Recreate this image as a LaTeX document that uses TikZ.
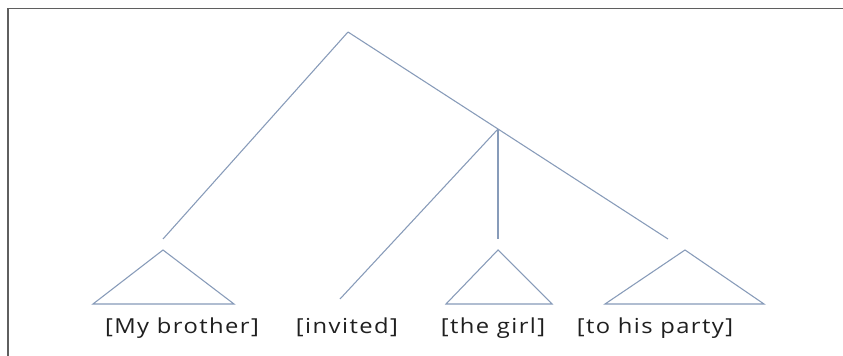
\documentclass[tikz,border=0pt]{standalone}
\usepackage{fontspec}
\setmainfont{Open Sans}
\newfontfamily\lblfont[FakeStretch=1.15,LetterSpace=7]{Open Sans}
\definecolor{treeline}{RGB}{135,155,185}
\definecolor{framegray}{RGB}{95,95,95}
\begin{document}
\begin{tikzpicture}[x=0.75pt,y=-0.75pt,
  branch/.style={draw=treeline,line width=0.8pt},
  tri/.style={draw=treeline,line width=0.8pt},
  lbl/.style={anchor=base,inner sep=0pt,font=\lblfont\fontsize{15.5}{18}\selectfont,text=black!88}]
\useasboundingbox (0,0) rectangle (843,356);
\fill[white] (0,0) rectangle (843,356);
% frame
\coordinate (fTL) at (8,8.5);
\coordinate (fTR) at (843,8.5);
\coordinate (fBL) at (8,356);
\draw[framegray,line width=1.2pt] (fBL) -- (fTL) -- (fTR);
% tree points
\coordinate (root) at (348,32);
\coordinate (vp) at (498,129);
\coordinate (subj) at (163,239);
\coordinate (obj) at (498,239);
\coordinate (pp) at (668,239);
\coordinate (verb) at (340,299);
\draw[branch] (root) -- (subj);
\draw[branch] (root) -- (vp) -- (pp);
\draw[branch] (vp) -- (verb);
\draw[branch] (vp) -- (obj);
% triangles
\coordinate (t1a) at (163,250); \coordinate (t1l) at (93,304); \coordinate (t1r) at (234,304);
\coordinate (t2a) at (498,250); \coordinate (t2l) at (446,304); \coordinate (t2r) at (552,304);
\coordinate (t3a) at (685,250); \coordinate (t3l) at (605,304); \coordinate (t3r) at (764,304);
\draw[tri] (t1l) -- (t1a) -- (t1r) -- cycle;
\draw[tri] (t2l) -- (t2a) -- (t2r) -- cycle;
\draw[tri] (t3l) -- (t3a) -- (t3r) -- cycle;
% labels
\node[lbl] (l1) at (182,333) {[My brother]};
\node[lbl] (l2) at (347,333) {[invited]};
\node[lbl] (l3) at (493,333) {[the girl]};
\node[lbl] (l4) at (655,333) {[to his party]};
\end{tikzpicture}
\end{document}
